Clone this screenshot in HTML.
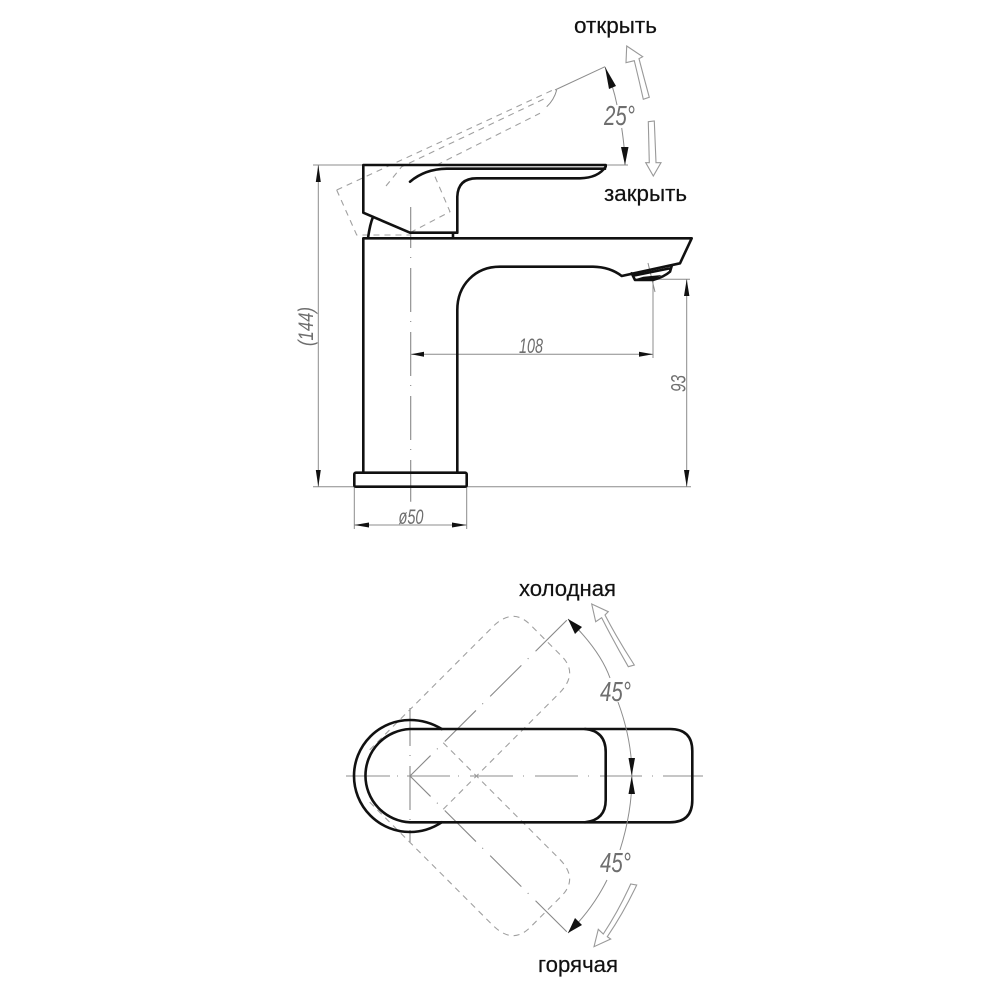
<!DOCTYPE html>
<html><head><meta charset="utf-8"><style>
html,body{margin:0;padding:0;background:#fff}
svg{display:block}
.t{font-family:"Liberation Sans",sans-serif;font-size:22px;fill:#111;stroke:#111;stroke-width:.2}
.d{font-family:"Liberation Sans",sans-serif;font-style:italic;font-size:21px;fill:#6e6e6e}
.b{font-size:28px}
.k{fill:none;stroke:#111;stroke-width:2.6;stroke-linejoin:round;stroke-linecap:round}
.g{fill:none;stroke:#8c8c8c;stroke-width:1}
.c{fill:none;stroke:#888;stroke-width:1.1;stroke-dasharray:44 9 1 10}
.h{fill:none;stroke:#a0a0a0;stroke-width:1.1;stroke-dasharray:6 5}
.o{fill:#fff;stroke:#999;stroke-width:1.1}
</style></head><body>
<svg width="1000" height="1000" viewBox="0 0 1000 1000" xmlns="http://www.w3.org/2000/svg">
<!-- SIDE: dimensions -->
<path class="g" d="M313 165H363M606 165H628M313 486.7H691M653 279.3H690M653 280V358M648 263L655 292M411 354.3H653M686.7 279.3V486.7M318.3 165V486.7M354.3 486.7V529M466.7 486.7V529M354.3 525H466.7M555 90L605 66.7"/>
<path class="g" d="M605 67Q613 85 617 105M621.7 128Q625 150 625 165"/>
<g fill="#111">
<path d="M605 67L616 86L609 89Z"/>
<path d="M625 165L621 147L628.5 147Z"/>
<path d="M318.3 165L315.8 182H320.8Z"/>
<path d="M318.3 486.7L315.8 470H320.8Z"/>
<path d="M686.7 279.3L684 296H689.4Z"/>
<path d="M686.7 486.7L684 470H689.4Z"/>
<path d="M411 354.3L424 351.8V356.8Z"/>
<path d="M653 354.3L639 351.8V356.8Z"/>
<path d="M354.3 525L369 522.5V527.5Z"/>
<path d="M466.7 525L452 522.5V527.5Z"/>
</g>
<!-- SIDE: centerline -->
<path class="c" stroke-dashoffset="3" d="M410.7 207V501.7"/>
<!-- SIDE: dashed lever -->
<g class="h">
<path d="M336.7 190L553 90"/>
<path d="M386 186L401.7 166.7L548 97"/>
<path d="M436.7 165L540 113.3"/>
<path d="M336.7 190L356.7 235H410"/>
<path d="M435 176.7L450 211.7L410 232.7"/>
</g>
<path class="g" d="M556.7 90Q554 100 546.7 106.7"/>
<!-- SIDE: body -->
<path class="k" d="M605.7 165H363.3V212.7L410 232.7H457.3V196.7Q458 178.3 476.7 178.3H580Q598 178 605.7 166.7V165"/>
<path class="k" stroke-width="2.2" d="M605 168.7H446.7Q425 169 410 181.7"/>
<path class="k" stroke-width="1.8" d="M368 238Q370 224 373 217M453 233V238"/>
<path class="k" d="M363.3 472.7V238.3H691.7L680 263.3L621.7 276Q610 267 593 266.7H500C475 266.7 457.3 285 457.3 310V472.7"/>
<path class="k" stroke-width="1.8" d="M631.7 273.3L635 280H653Q664 277 670 271.7L671.7 266M634 275.5L669 268.5"/>
<path d="M635 279.3L653 280L661.7 275L643.3 276.7Z" fill="#111"/>
<rect x="354.3" y="472.7" width="112.4" height="14" rx="1.5" class="k"/>
<!-- SIDE: labels -->
<text class="t" x="574" y="33" textLength="83" lengthAdjust="spacingAndGlyphs">открыть</text>
<text class="t" x="604" y="201" textLength="83" lengthAdjust="spacingAndGlyphs">закрыть</text>
<text class="d b" x="604" y="125" textLength="31" lengthAdjust="spacingAndGlyphs">25°</text>
<text class="d" x="519" y="353" textLength="24" lengthAdjust="spacingAndGlyphs">108</text>
<text class="d" x="398.5" y="524" textLength="25" lengthAdjust="spacingAndGlyphs">ø50</text>
<text class="d" transform="translate(685.5 392) rotate(-90)" textLength="17" lengthAdjust="spacingAndGlyphs">93</text>
<text class="d" transform="translate(313 346) rotate(-90)" textLength="39" lengthAdjust="spacingAndGlyphs">(144)</text>
<!-- SIDE: open arrows -->
<path class="o" d="M626.7 46L642.7 56.7L639 58.7Q644 78 649.3 97.3L643.3 99.3Q639 80 634.3 60.7L626 62.7Z"/>
<path class="o" d="M648.3 121.7L654.3 121L656 162.7H661L653.3 176L645.7 162.7H649.3Z"/>
<!-- TOP: centerlines -->
<path class="g" stroke="#888" d="M346 776H390M407 776H450M470 776H513M535 776H578M600 776H642M663 776H703M397 776h1M458 776h1M523 776h1M588 776h1M652 776h1"/>
<path class="c" stroke-dashoffset="15" d="M410 776L568 619"/>
<path class="c" stroke-dashoffset="15" d="M410 776L568 933"/>
<path class="c" stroke-dashoffset="6" d="M410 708V842"/>
<!-- TOP: dashed rotated levers -->
<path class="h" transform="translate(410 776) rotate(-45)" d="M0 47H164Q192 47 192 22V-22Q192 -47 164 -47H-10"/>
<path class="h" transform="translate(410 776) rotate(45)" d="M-10 47H164Q192 47 192 22V-22Q192 -47 164 -47H0"/>
<!-- TOP: body -->
<path class="k" d="M441.7 729Q427 720 410 720A56 56 0 0 0 410 832Q427 832 441.7 822.3"/>
<path class="k" d="M410 729H670Q692.3 729 692.3 751V800Q692.3 822.3 670 822.3H410A46.7 46.7 0 0 1 410 729Z"/>
<path class="k" d="M585 729Q605.7 731 605.7 752V800Q605.7 820 585 822.3"/>
<!-- TOP: dim arcs -->
<path class="g" d="M568 619Q600 650 610 678M618 702Q632 740 632 776M632 776Q632 812 620 850M607 880Q592 910 568 933"/>
<g fill="#111">
<path d="M568 619L582 627L575 634Z"/>
<path d="M568 933L582 925L575 918Z"/>
<path d="M631.7 776L628.5 758H635Z"/>
<path d="M631.7 776L628.5 794H635Z"/>
</g>
<!-- TOP: labels -->
<text class="t" x="519" y="596" textLength="97" lengthAdjust="spacingAndGlyphs">холодная</text>
<text class="t" x="538" y="972" textLength="80" lengthAdjust="spacingAndGlyphs">горячая</text>
<text class="d b" x="600" y="701" textLength="31" lengthAdjust="spacingAndGlyphs">45°</text>
<text class="d b" x="600" y="872" textLength="31" lengthAdjust="spacingAndGlyphs">45°</text>
<path class="o" d="M591.7 604L608.3 611.7L605 615Q618 640 634.3 665L628.3 666.7Q614 642 601.7 617.7L595.7 621.7Z"/>
<path class="o" d="M594 946.7L598.3 929.3L603.3 934Q619 910 630.7 884L636.7 885Q624 912 607.3 936.7L610.7 939Z"/>
</svg>
</body></html>
